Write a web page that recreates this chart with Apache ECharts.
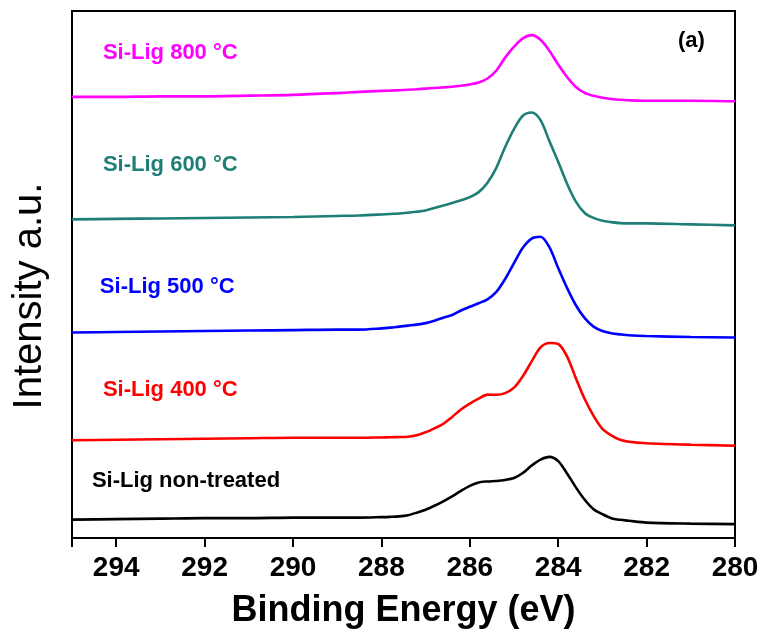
<!DOCTYPE html>
<html>
<head>
<meta charset="utf-8">
<script src="https://cdn.jsdelivr.net/npm/echarts@6/dist/echarts.min.js"></script>
<style>
  html, body { margin: 0; padding: 0; background: #fff; }
  #chart { width: 765px; height: 634px; }
</style>
</head>
<body>
<div id="chart"></div>
<script>
// C 1s XPS spectra, stacked with vertical offsets (a.u.)
const energy = [295, 294, 293, 292, 291, 290, 289, 288.5,
  288, 287.8, 287.6, 287.4, 287.2, 287, 286.8, 286.6, 286.4, 286.2,
  286, 285.8, 285.6, 285.4, 285.2, 285, 284.8, 284.6, 284.4, 284.2,
  284, 283.8, 283.6, 283.4, 283.2, 283, 282.8, 282.6, 282.4,
  282, 281, 280];

const sampleNames = ['Si-Lig 800 °C', 'Si-Lig 600 °C', 'Si-Lig 500 °C', 'Si-Lig 400 °C', 'Si-Lig non-treated'];

const si800 = [444.5, 444.5, 445, 445, 445.7, 446.5, 448.3, 449.5,
  450.5, 450.8, 451.2, 451.7, 452.2, 452.8, 453.4, 454, 454.7, 455.7,
  457, 459, 463, 471, 484, 495, 503.5, 506.7, 502, 491,
  477, 464.5, 454.5, 448.5, 445.5, 443.5, 442.3, 441.5, 441,
  440.5, 440.5, 440];
const si600 = [321, 321.5, 322, 322.5, 323, 323.5, 324.5, 325,
  326, 326.5, 327, 327.8, 328.7, 330, 332.5, 335, 337.5, 340.3,
  343.5, 348.5, 358, 373, 394, 412, 425.5, 428.7, 421, 400,
  379, 357, 339, 327.5, 322.5, 319.7, 318.3, 317.3, 317,
  317, 316, 315];
const si500 = [207, 207.5, 208, 208.5, 209, 209.5, 210, 210,
  211.2, 212, 213, 214, 215, 216.5, 219, 222, 224.7, 229.2,
  233, 236.5, 240.5, 248, 261, 277, 292.5, 301.7, 303.5, 293,
  272, 252, 234.5, 221.5, 213, 208.5, 206.3, 205.2, 204.3,
  203.5, 202.5, 202];
const si400 = [98.5, 99, 99.5, 100, 100.5, 101, 101, 101,
  101.3, 101.5, 101.7, 102, 103.5, 106.5, 110.5, 115, 122, 129.5,
  135.5, 140.5, 144.5, 144.3, 146, 151.5, 163, 178, 192, 196.5,
  195.5, 183, 161, 140, 123, 110, 103.5, 99, 97,
  95.5, 94, 93];
const siRaw = [18.5, 19, 19.5, 20, 20, 20.5, 20.5, 20.5,
  21, 21.3, 21.8, 23, 25.5, 28.5, 32.5, 37, 42, 47.5,
  52.5, 56, 57, 57.5, 58.5, 60.5, 65.5, 73, 79, 81.7,
  77.5, 65, 51, 38.5, 29, 24, 20, 18.3, 17.3,
  15.5, 14.5, 14];

const xTicks = [294, 292, 290, 288, 286, 284, 282, 280];

const seriesValues = [si800, si600, si500, si400, siRaw];
const colors = ['#ff00ff', '#1f7f76', '#0000ff', '#ff0000', '#000000'];
// label anchor (energy, intensity) for each spectrum's name
const labelAnchors = [[294.3, 489], [294.3, 376], [294.37, 253], [294.3, 149], [294.55, 57]];

const FONT = "'Liberation Sans', Arial, sans-serif";

const chart = echarts.init(document.getElementById('chart'));

const series = seriesValues.map((vals, i) => ({
  name: sampleNames[i],
  type: 'line',
  data: vals.map((v, k) => [energy[k], v]),
  smooth: 0.3,
  symbol: 'none',
  lineStyle: { color: colors[i], width: 2.6 },
  itemStyle: { color: colors[i] },
  z: 3,
  markPoint: {
    symbol: 'circle',
    symbolSize: 0,
    silent: true,
    data: [{
      coord: labelAnchors[i],
      label: {
        show: true,
        position: 'right',
        distance: 0,
        formatter: sampleNames[i],
        color: colors[i],
        fontFamily: FONT,
        fontWeight: 'bold',
        fontSize: 22
      }
    }]
  }
}));

// panel tag
series.push({
  type: 'line',
  data: [],
  markPoint: {
    symbol: 'circle',
    symbolSize: 0,
    silent: true,
    data: [{
      coord: [281.29, 501],
      label: {
        show: true,
        position: 'right',
        distance: 0,
        formatter: '(a)',
        color: '#000',
        fontFamily: FONT,
        fontWeight: 'bold',
        fontSize: 22
      }
    }]
  }
});

chart.setOption({
  animation: false,
  backgroundColor: '#fff',
  grid: {
    left: 72, right: 30, top: 11, bottom: 92,
    show: true, borderColor: '#000', borderWidth: 2, backgroundColor: 'transparent'
  },
  xAxis: {
    type: 'value',
    min: 280, max: 295, interval: 2,
    inverse: true,
    name: 'Binding Energy (eV)',
    nameLocation: 'middle',
    nameGap: 55,
    nameTextStyle: { fontFamily: FONT, fontWeight: 'bold', fontSize: 36, color: '#000' },
    axisLine: { show: true, lineStyle: { color: '#000', width: 2 } },
    axisTick: { show: true, length: 9, inside: false, lineStyle: { color: '#000', width: 2 } },
    axisLabel: {
      margin: 16,
      fontFamily: FONT, fontWeight: 'bold', fontSize: 28, color: '#000',
      customValues: xTicks
    },
    splitLine: { show: false }
  },
  yAxis: {
    type: 'value',
    min: 0, max: 531,
    axisLine: { show: false },
    axisTick: { show: false },
    axisLabel: { show: false },
    splitLine: { show: false }
  },
  graphic: [{
    type: 'text',
    rotation: Math.PI / 2,
    x: 30, y: 296,
    style: {
      text: 'Intensity a.u.',
      fontFamily: FONT,
      fontSize: 40,
      fill: '#000',
      align: 'center',
      verticalAlign: 'middle'
    }
  }],
  series: series
});
</script>
</body>
</html>
